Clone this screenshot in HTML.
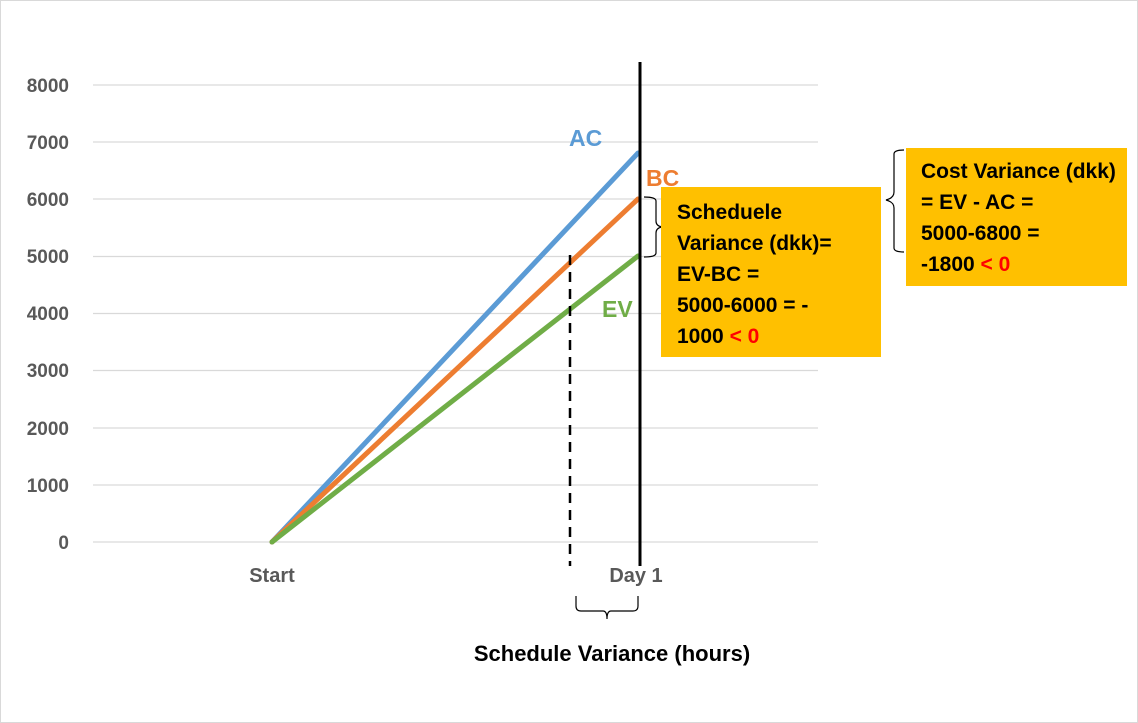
<!DOCTYPE html>
<html><head><meta charset="utf-8"><style>
html,body{margin:0;padding:0;background:#fff}
body{width:1138px;height:723px;overflow:hidden;position:relative;font-family:"Liberation Sans",sans-serif;font-weight:bold}
.box{position:absolute;background:#ffc000;color:#000;font-size:21px;line-height:31px;box-sizing:border-box;white-space:nowrap}
.r{color:#ff0000}
</style></head><body>
<svg width="1138" height="723" style="position:absolute;left:0;top:0">
<rect x="0.5" y="0.5" width="1137" height="722" fill="none" stroke="#d9d9d9"/>
<g stroke="#d9d9d9" stroke-width="1.3">
<line x1="93" x2="818" y1="85" y2="85"/><line x1="93" x2="818" y1="142" y2="142"/>
<line x1="93" x2="818" y1="199" y2="199"/><line x1="93" x2="818" y1="256.5" y2="256.5"/>
<line x1="93" x2="818" y1="313.5" y2="313.5"/><line x1="93" x2="818" y1="370.5" y2="370.5"/>
<line x1="93" x2="818" y1="428" y2="428"/><line x1="93" x2="818" y1="485" y2="485"/>
<line x1="93" x2="818" y1="542" y2="542"/>
</g>
<g font-size="19" fill="#595959" text-anchor="end" font-weight="bold">
<text x="69" y="92">8000</text><text x="69" y="149">7000</text><text x="69" y="206">6000</text>
<text x="69" y="263">5000</text><text x="69" y="320">4000</text><text x="69" y="377">3000</text>
<text x="69" y="435">2000</text><text x="69" y="492">1000</text><text x="69" y="549">0</text>
</g>
<g font-size="20" fill="#595959" text-anchor="middle" font-weight="bold">
<text x="272" y="582">Start</text><text x="636" y="582">Day 1</text>
</g>
<g stroke-width="5" stroke-linecap="round">
<line x1="272" y1="542" x2="638" y2="153" stroke="#5b9bd5"/>
<line x1="272" y1="542" x2="638" y2="199" stroke="#ed7d31"/>
<line x1="272" y1="542" x2="638" y2="256" stroke="#70ad47"/>
</g>
<line x1="640" y1="62" x2="640" y2="566" stroke="#000" stroke-width="3"/>
<line x1="570" y1="255" x2="570" y2="566" stroke="#000" stroke-width="2.5" stroke-dasharray="10,7"/>
<g font-size="23" font-weight="bold">
<text x="569" y="146" fill="#5b9bd5">AC</text>
<text x="646" y="186" fill="#ed7d31">BC</text>
<text x="602" y="317" fill="#70ad47">EV</text>
</g>
<g fill="none" stroke="#000" stroke-width="1.2">
<path d="M644 197 q12 0 12 4 v20 q0 5 6 6 q-6 1 -6 6 v20 q0 4 -12 4"/>
<path d="M904 150 q-10 0 -10 4 v38 q0 6 -8 8 q8 2 8 8 v40 q0 4 10 4"/>
<path d="M576 596 v10 q0 5 5 5 h22 q4 0 4 8 q0 -8 4 -8 h22 q5 0 5 -5 v-10"/>
</g>
<text x="612" y="661" font-size="22" text-anchor="middle" font-weight="bold" fill="#000">Schedule Variance (hours)</text>
</svg>
<div class="box" style="left:661px;top:187px;width:220px;height:170px;padding:10px 0 0 16px">Scheduele<br>Variance (dkk)=<br>EV-BC =<br>5000-6000 = -<br>1000 <span class="r">&lt; 0</span></div>
<div class="box" style="left:906px;top:148px;width:221px;height:138px;padding:8px 0 0 15px">Cost Variance (dkk)<br>= EV - AC =<br>5000-6800 =<br>-1800 <span class="r">&lt; 0</span></div>
</body></html>
